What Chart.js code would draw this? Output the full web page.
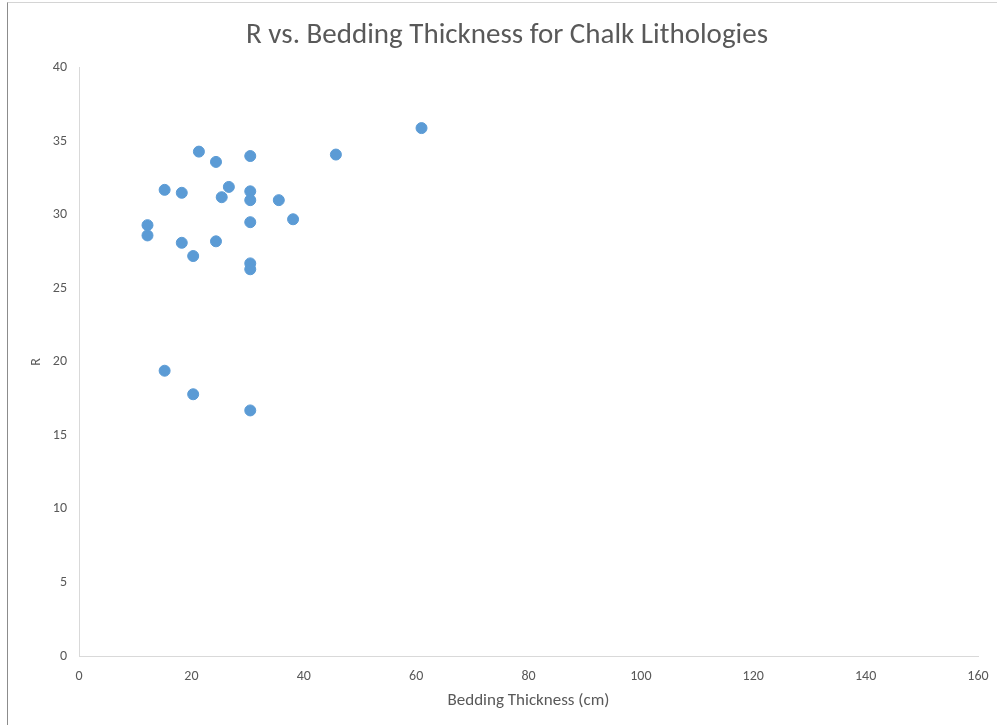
<!DOCTYPE html>
<html>
<head>
<meta charset="utf-8">
<script src="https://cdn.jsdelivr.net/npm/chart.js@4/dist/chart.umd.min.js"></script>
<style>
    body { margin: 0; background: #fff; }
    #wrap { position: relative; width: 997px; height: 725px; }
    #frame { position: absolute; left: 7px; top: 2px; right: 0; bottom: 0; border-top: 1px solid #d4d4d4; border-left: 1px solid #8c8c8c; pointer-events: none; }
</style>
</head>
<body>
<div id="wrap">
    <canvas id="chart" width="997" height="725"></canvas>
    <div id="frame"></div>
</div>
<script>
// bedding thickness (cm) and R for each chalk sample
const thickness = [60.96, 45.72, 21.34, 24.38, 30.48, 15.24, 18.29, 26.67, 25.4, 30.48, 30.48, 35.56,
    38.1, 30.48, 12.19, 12.19, 18.29, 24.38, 20.32, 30.48, 30.48, 15.24, 20.32, 30.48];
const rValues = [35.9, 34.1, 34.3, 33.6, 34.0, 31.7, 31.5, 31.9, 31.2, 31.6, 31.0, 31.0,
    29.7, 29.5, 29.3, 28.6, 28.1, 28.2, 27.2, 26.7, 26.3, 19.4, 17.8, 16.7];

const xTicks = [0, 20, 40, 60, 80, 100, 120, 140, 160];
const yTicks = [0, 5, 10, 15, 20, 25, 30, 35, 40];

const points = thickness.map((t, i) => ({ x: t, y: rValues[i] }));

const font = "Calibri, Carlito, 'Open Sans', sans-serif";
const grey = '#595959';

new Chart(document.getElementById('chart').getContext('2d'), {
    type: 'scatter',
    data: {
        datasets: [{
            label: 'R',
            data: points,
            backgroundColor: '#5B9BD5',
            borderColor: '#5B9BD5',
            pointRadius: 5.5,
            pointHoverRadius: 5.5
        }]
    },
    options: {
        responsive: false,
        animation: false,
        // left padding pushes the title centre to the right, like the original
        layout: { padding: { left: 36, right: 19, top: 0, bottom: 0 } },
        plugins: {
            legend: { display: false },
            tooltip: { enabled: false },
            title: {
                display: true,
                text: 'R vs. Bedding Thickness for Chalk Lithologies',
                color: grey,
                font: { family: font, size: 29, weight: 'normal', lineHeight: 1.2 },
                padding: { top: 18, bottom: 15 }
            }
        },
        scales: {
            x: {
                type: 'linear',
                min: 0,
                max: 160,
                afterFit: s => { s.height = 69; },
                afterBuildTicks: s => { s.ticks = xTicks.map(v => ({ value: v })); },
                grid: { display: false },
                border: { display: true, color: '#d9d9d9', width: 1 },
                ticks: { color: grey, padding: 4, font: { family: font, size: 14 }, maxRotation: 0 },
                title: {
                    display: true,
                    text: 'Bedding Thickness (cm)',
                    color: grey,
                    font: { family: font, size: 17 },
                    padding: { top: 0, bottom: 14 }
                }
            },
            y: {
                type: 'linear',
                min: 0,
                max: 40,
                afterFit: s => { s.width = 43; },
                afterBuildTicks: s => { s.ticks = yTicks.map(v => ({ value: v })); },
                grid: { display: false },
                border: { display: true, color: '#d9d9d9', width: 1 },
                ticks: { color: grey, padding: 4, font: { family: font, size: 14 } },
                title: {
                    display: true,
                    text: 'R',
                    color: grey,
                    font: { family: font, size: 14 },
                    padding: { top: -8, bottom: 0 }
                }
            }
        }
    }
});
</script>
</body>
</html>
